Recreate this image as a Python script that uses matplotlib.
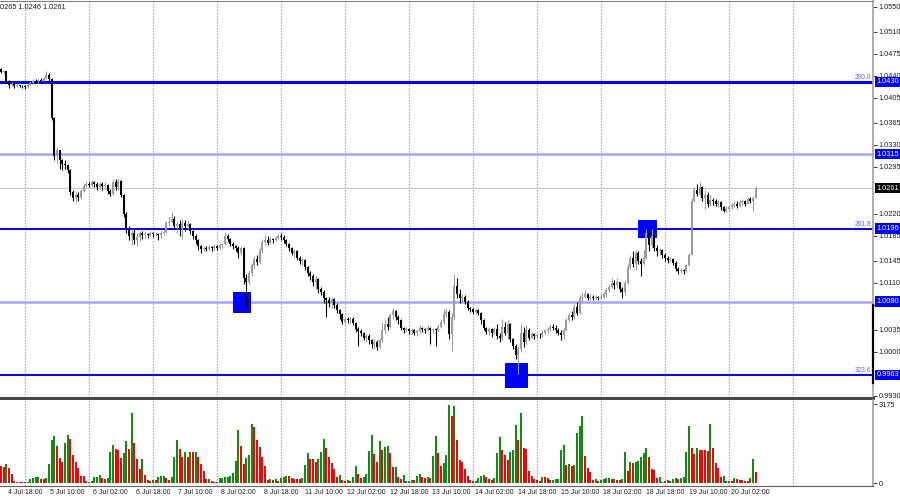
import matplotlib
matplotlib.use('Agg')
import matplotlib.pyplot as plt
import matplotlib.transforms as mtransforms
from matplotlib.patches import Rectangle
import numpy as np
import pandas as pd

plt.rcParams['font.family'] = ['Liberation Sans', 'DejaVu Sans']

# EURUSD H1, prices in pips above 1.0000 (open of each bar = previous close)
first_open = 450
close_pips = [
    446, 447, 432, 425, 427, 424, 425, 424, 423, 422,
    426, 428, 432, 431, 433, 432, 436, 441, 435, 372,
    312, 322, 305, 300, 298, 290, 255, 245, 250, 246,
    256, 265, 268, 266, 270, 267, 263, 268, 264, 266,
    256, 252, 270, 262, 272, 250, 220, 195, 185, 190,
    178, 183, 190, 186, 188, 186, 189, 187, 188, 186,
    189, 191, 205, 207, 212, 200, 203, 195, 205, 200,
    203, 192, 185, 178, 168, 164, 166, 164, 167, 165,
    168, 166, 170, 172, 185, 180, 172, 168, 165, 158,
    165, 118, 112, 125, 138, 148, 143, 162, 175, 178,
    174, 180, 178, 182, 184, 183, 178, 172, 165, 158,
    160, 150, 145, 146, 135, 125, 120, 112, 116, 100,
    96, 85, 82, 78, 84, 75, 66, 60, 48, 52,
    50, 53, 46, 36, 33, 30, 22, 25, 18, 12,
    15, 8, 18, 35, 45, 40, 58, 65, 56, 50,
    38, 35, 37, 33, 34, 30, 33, 38, 36, 35,
    38, 34, 36, 35, 40, 48, 60, 63, 28, 55,
    105, 92, 85, 88, 80, 70, 68, 64, 66, 62,
    50, 38, 32, 36, 30, 36, 25, 22, 40, 30,
    45, 20, 10, -5, 5, 30, 15, 35, 22, 28,
    25, 27, 26, 30, 34, 36, 40, 38, 34, 30,
    26, 35, 50, 58, 55, 72, 62, 85, 88, 92,
    86, 88, 85, 87, 86, 88, 92, 98, 104, 110,
    106, 112, 100, 96, 110, 135, 150, 140, 158, 145,
    140, 150, 190, 170, 185, 165, 160, 162, 155, 150,
    146, 148, 142, 132, 128, 130, 128, 138, 155, 240,
    258, 252, 262, 245, 250, 235, 242, 240, 236, 238,
    230, 225, 228, 231, 234, 236, 232, 238, 240, 236,
    243, 240, 245, 261,
]
high_pips = [
    453, 449, 447, 433, 430, 428, 427, 426, 426, 425,
    428, 431, 434, 434, 435, 436, 438, 447, 444, 437,
    374, 326, 315, 308, 305, 300, 292, 258, 255, 254,
    259, 268, 272, 270, 273, 272, 270, 271, 270, 270,
    268, 260, 275, 276, 275, 273, 252, 222, 200, 196,
    195, 190, 193, 193, 192, 190, 192, 191, 191, 190,
    192, 194, 208, 215, 222, 216, 208, 210, 212, 210,
    210, 205, 194, 187, 180, 170, 169, 168, 170, 169,
    171, 170, 173, 174, 190, 188, 182, 175, 170, 168,
    169, 167, 124, 130, 142, 152, 155, 166, 180, 186,
    184, 183, 182, 185, 188, 190, 186, 180, 174, 167,
    164, 162, 153, 150, 148, 137, 128, 124, 120, 118,
    104, 98, 88, 88, 88, 86, 78, 68, 62, 55,
    55, 56, 55, 48, 40, 36, 32, 28, 28, 20,
    20, 18, 22, 48, 52, 55, 62, 70, 66, 58,
    52, 40, 40, 38, 38, 36, 36, 42, 40, 38,
    42, 40, 38, 38, 44, 52, 68, 70, 66, 62,
    124, 118, 100, 92, 90, 82, 72, 70, 69, 68,
    64, 52, 40, 40, 38, 40, 44, 30, 52, 48,
    50, 46, 22, 12, 10, 45, 40, 42, 38, 32,
    30, 30, 30, 34, 37, 40, 44, 45, 42, 38,
    34, 38, 54, 62, 65, 76, 80, 90, 95, 98,
    94, 92, 90, 90, 89, 92, 96, 102, 108, 118,
    114, 118, 110, 104, 115, 140, 155, 160, 162, 160,
    150, 162, 196, 200, 195, 186, 170, 166, 164, 158,
    152, 151, 150, 145, 135, 134, 132, 140, 158, 245,
    262, 268, 270, 264, 258, 255, 250, 245, 244, 242,
    240, 232, 232, 234, 237, 240, 240, 242, 243, 242,
    246, 246, 248, 265,
]
low_pips = [
    444, 443, 428, 420, 423, 421, 422, 422, 421, 419,
    421, 425, 427, 428, 429, 430, 431, 434, 432, 370,
    305, 300, 292, 290, 292, 285, 250, 240, 238, 240,
    244, 254, 262, 262, 263, 262, 258, 260, 258, 260,
    252, 248, 250, 258, 258, 246, 215, 190, 178, 170,
    172, 168, 176, 180, 182, 181, 184, 183, 184, 178,
    182, 186, 190, 200, 205, 196, 190, 185, 180, 193,
    195, 188, 180, 172, 162, 158, 160, 160, 162, 161,
    163, 162, 164, 166, 170, 175, 168, 164, 160, 150,
    155, 108, 72, 108, 120, 132, 138, 140, 158, 170,
    170, 172, 173, 176, 179, 178, 174, 168, 160, 154,
    150, 146, 140, 138, 130, 120, 115, 105, 100, 94,
    90, 78, 55, 72, 70, 70, 62, 52, 45, 44,
    46, 45, 42, 32, 10, 25, 18, 15, 12, 6,
    4, 3, 6, 15, 30, 35, 38, 52, 50, 44,
    34, 30, 32, 29, 29, 26, 25, 30, 32, 30,
    33, 12, 30, 10, 32, 38, 45, 55, 20, 2,
    50, 85, 78, 80, 76, 66, 64, 60, 60, 58,
    45, 34, 28, 26, 24, 28, 20, 15, 18, 26,
    20, 15, 5, -12, -35, 0, 8, 12, 18, 20,
    20, 22, 22, 24, 28, 30, 33, 34, 30, 26,
    18, 20, 33, 48, 50, 52, 58, 60, 80, 85,
    82, 83, 82, 82, 82, 84, 86, 88, 95, 102,
    100, 104, 96, 85, 90, 108, 132, 135, 130, 140,
    120, 138, 148, 160, 165, 160, 152, 155, 150, 145,
    142, 143, 138, 128, 124, 125, 124, 127, 136, 155,
    238, 248, 250, 240, 228, 230, 232, 234, 232, 230,
    226, 222, 222, 225, 228, 230, 229, 230, 234, 233,
    236, 237, 224, 246,
]
volumes = [
    700, 640, 780, 600, 380, 100, 50, 40, 40, 40,
    60, 150, 200, 230, 250, 180, 160, 200, 750, 1740,
    1880, 1470, 1000, 850, 1600, 1930, 1750, 1130, 850, 620,
    300, 280, 100, 60, 100, 230, 250, 340, 200, 160,
    200, 1260, 1520, 1380, 1330, 1010, 1220, 1700, 1380, 2800,
    1600, 950, 580, 960, 315, 120, 100, 130, 120, 230,
    270, 300, 200, 120, 230, 1030, 1710, 1380, 1050, 1260,
    1050, 1260, 1250, 1260, 1050, 780, 500, 160, 170, 100,
    60, 40, 190, 200, 230, 260, 300, 400, 890, 2150,
    1490, 780, 990, 1120, 2390, 2260, 1740, 1440, 1050, 685,
    120, 160, 120, 160, 70, 200, 230, 300, 290, 200,
    160, 160, 150, 200, 710, 1190, 960, 950, 850, 960,
    1260, 1770, 1400, 1050, 800, 575, 230, 340, 120, 90,
    120, 90, 260, 670, 370, 200, 230, 370, 1300, 1945,
    1160, 850, 1670, 1330, 1440, 1470, 1220, 640, 650, 260,
    160, 330, 80, 90, 120, 110, 300, 370, 260, 200,
    230, 200, 1100, 1880, 1190, 670, 810, 1140, 3150, 2700,
    3100, 1720, 920, 830, 550, 300, 130, 70, 100, 200,
    300, 330, 260, 170, 130, 200, 1190, 1850, 1320, 1120,
    920, 1250, 1320, 2340, 1740, 2810, 1410, 1350, 490, 300,
    170, 130, 90, 260, 225, 200, 130, 140, 160, 170,
    1320, 1520, 730, 750, 670, 730, 2000, 2310, 2680, 1100,
    620, 460, 130, 170, 100, 130, 170, 200, 210, 170,
    180, 130, 110, 170, 1230, 490, 860, 790, 830, 880,
    1060, 1190, 1390, 1060, 570, 530, 220, 260, 50, 100,
    130, 100, 160, 200, 160, 200, 225, 1250, 2310, 1410,
    1150, 1390, 1330, 1320, 1320, 1300, 2380, 1390, 790, 620,
    240, 300, 90, 100, 90, 200, 160, 130, 130, 100,
    90, 200, 960, 460,
]

levels = [1.0430, 1.0315, 1.0196, 1.0080, 0.9963]
level_colors = ['#0000ff', '#a3a3ff', '#0000ff', '#a3a3ff', '#0000ff']
level_widths = [2.2, 1.8, 1.4, 1.8, 1.4]
fib_text = {1.0430: '200.0', 1.0196: '261.8', 0.9963: '323.6'}
last_price = 1.0261
price_ticks = [1.0550, 1.0510, 1.0475, 1.0440, 1.0405, 1.0365, 1.0330, 1.0295,
               1.0220, 1.0185, 1.0145, 1.0110, 1.0075, 1.0035, 1.0000, 0.9930]
vol_max_label = 3175
signal_bars = [90.35, 193.3, 242.4]
signal_prices = [1.00786, 0.99622, 1.01957]
signal_w = [6.7, 8.6, 7.2]
signal_h = [0.00335, 0.0040, 0.0029]
header = '0265 1.0246 1.0261'

n = min(len(close_pips), len(high_pips), len(low_pips), len(volumes))
k = np.arange(n)
closes = 1 + np.array(close_pips[:n]) / 10000
opens = np.r_[1 + first_open / 10000, closes[:-1]]
highs = np.maximum(1 + np.array(high_pips[:n]) / 10000, np.maximum(opens, closes))
lows = np.minimum(1 + np.array(low_pips[:n]) / 10000, np.minimum(opens, closes))
vol = np.array(volumes[:n])

times = pd.date_range('2022-07-04 09:00', periods=24 * 25, freq='h')
times = times[times.dayofweek < 5][:n]
label_ks = np.arange(9, n, 16)
labels = [f'{t.day} {t:%b %H:%M}' for t in times[label_ks]]
grid_ks = np.arange(9, 300, 24)

fig = plt.figure(figsize=(9, 5), dpi=100)
ax = fig.add_axes([0, 0.204, 0.97, 0.794])
ax_vol = fig.add_axes([0, 0.028, 0.97, 0.172])

xlim = (-0.375, 326.96)

# --- price panel ---
for g in grid_ks:
    ax.axvline(g, color='#a8a8a8', ls=(0, (1.2, 1.2)), lw=0.9, zorder=0.5)
    ax_vol.axvline(g, color='#a8a8a8', ls=(0, (1.2, 1.2)), lw=0.9, zorder=0.5)

for lvl, c, w in zip(levels, level_colors, level_widths):
    ax.axhline(lvl, color=c, lw=w, zorder=1)
ax.axhline(last_price, color='#c4c4c4', lw=0.7, zorder=1)

for bx, by, bw, bh in zip(signal_bars, signal_prices, signal_w, signal_h):
    ax.add_patch(Rectangle((bx - bw / 2, by - bh / 2), bw, bh, color='#0000ff', lw=0, zorder=1.5))

bull = closes >= opens
ccol = np.where(bull, '#9c9c9c', '#000000')
ax.vlines(k, lows, highs, colors=ccol, lw=0.8, zorder=2)
body = np.maximum(np.abs(closes - opens), 0.00008)
ax.bar(k, body, bottom=np.minimum(opens, closes), width=0.75, color=ccol, lw=0, zorder=2)

ax.set_xlim(*xlim)
ax.set_ylim(0.992633, 1.05591)
ax.set_xticks([])
ax.yaxis.tick_right()
ax.set_yticks(price_ticks)
ax.set_yticklabels([f'{p:.4f}' for p in price_ticks])
ax.tick_params(axis='y', length=3, width=0.6, pad=1, labelsize=5.3, colors='#202020')
ax.spines['left'].set_visible(False)
ax.spines['top'].set_color('#808080')
ax.spines['right'].set_color('#a0a0a0')
ax.spines['right'].set_linewidth(1.2)
ax.spines['bottom'].set_color('#484848')
ax.spines['bottom'].set_linewidth(2.2)

trans = mtransforms.blended_transform_factory(ax.transAxes, ax.transData)
ax.plot([1, 1], [1.00746, 0.99502], transform=trans, color='black', lw=1.6, clip_on=False, zorder=3)
for lvl in levels:
    ax.text(1.004, lvl, f'{lvl:.4f}', transform=trans, ha='left', va='center', fontsize=5.3,
            color='white', bbox=dict(boxstyle='square,pad=0.25', fc='#0000ff', ec='none'),
            clip_on=False, zorder=5)
    if lvl in fib_text:
        ax.text(0.998, lvl + 0.0001, fib_text[lvl], transform=trans, ha='right', va='bottom',
                fontsize=4.8, color='#6060ff', zorder=5)
ax.text(1.004, last_price, f'{last_price:.4f}', transform=trans, ha='left', va='center', fontsize=5.3,
        color='white', bbox=dict(boxstyle='square,pad=0.25', fc='#000000', ec='none'),
        clip_on=False, zorder=5)

fig.text(0.0, 0.992, header, fontsize=5.3, ha='left', va='top', color='#202020')

# --- volume panel ---
vcol = ['#ff0000'] + ['#138a13' if vol[i] > vol[i - 1] else '#ff0000' for i in range(1, n)]
ax_vol.bar(k, vol, width=0.75, color=vcol, lw=0, zorder=2)
ax_vol.set_xlim(*xlim)
ax_vol.set_ylim(-120, 3336)
ax_vol.yaxis.tick_right()
ax_vol.set_yticks([0, vol_max_label])
ax_vol.set_yticklabels(['0', str(vol_max_label)])
ax_vol.tick_params(axis='y', length=3, width=0.6, pad=1, labelsize=5.3, colors='#202020')
ax_vol.set_xticks(label_ks)
ax_vol.set_xticklabels(labels)
ax_vol.tick_params(axis='x', length=0, pad=2.5, labelsize=5, colors='#202020')
ax_vol.spines['left'].set_visible(False)
ax_vol.spines['top'].set_visible(False)
ax_vol.spines['right'].set_color('#a0a0a0')
ax_vol.spines['right'].set_linewidth(1.2)
ax_vol.spines['bottom'].set_color('#606060')

fig.savefig('out.png', dpi=100)
